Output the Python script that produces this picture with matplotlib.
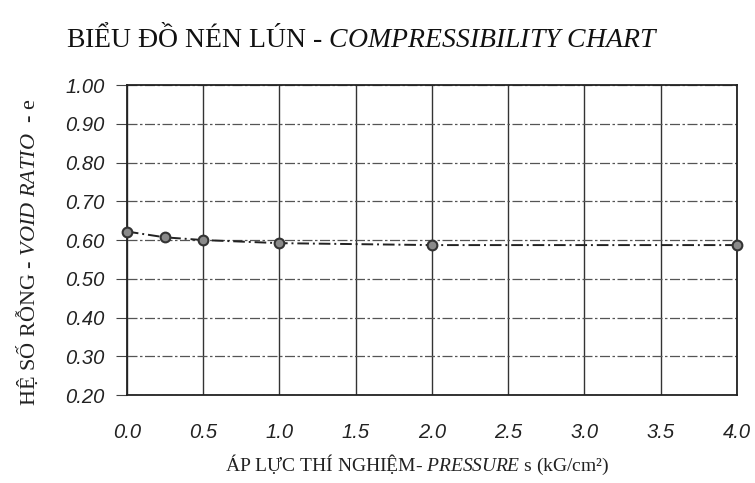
import matplotlib
matplotlib.use("Agg")
import matplotlib.pyplot as plt
import numpy as np

pressure = [0.0, 0.25, 0.5, 1.0, 2.0, 4.0]
void_ratio = [0.622, 0.607, 0.600, 0.592, 0.587, 0.587]
x_ticks = [0.0, 0.5, 1.0, 1.5, 2.0, 2.5, 3.0, 3.5, 4.0]
y_ticks = [0.20, 0.30, 0.40, 0.50, 0.60, 0.70, 0.80, 0.90, 1.00]

plt.rcParams['mathtext.fontset'] = 'custom'
plt.rcParams['mathtext.it'] = 'Liberation Serif:italic'
plt.rcParams['mathtext.rm'] = 'Liberation Serif'

fig = plt.figure(figsize=(7.55, 4.83), dpi=100)
ax = fig.add_axes([0.168, 0.182, 0.808, 0.642])

ax.plot(pressure, void_ratio, linestyle=(0, (6, 2, 1, 2)), color='#222222', lw=1.4,
        marker='o', markersize=7, markerfacecolor='#8a8a8a', markeredgecolor='#333333',
        markeredgewidth=1.5, zorder=3, clip_on=False)

ax.set_xlim(0, 4.0)
ax.set_ylim(0.2, 1.0)
ax.set_xticks(x_ticks)
ax.set_yticks(y_ticks)
ax.set_xticklabels([f"{v:.1f}" for v in x_ticks], fontstyle='italic',
                   family='Liberation Sans', fontsize=14.5, color='#222222')
ax.set_yticklabels([f"{v:.2f}" for v in y_ticks], fontstyle='italic',
                   family='Liberation Sans', fontsize=14.5, color='#222222')
ax.tick_params(axis='x', length=0, pad=20)
ax.tick_params(axis='y', length=8, pad=8, direction='out', color='#444444')

ax.grid(axis='x', color='#333333', lw=1.0, linestyle='-')
ax.grid(axis='y', color='#555555', lw=0.9, linestyle=(0, (8, 2, 2, 2)))
for s in ax.spines.values():
    s.set_color('#222222')
    s.set_linewidth(1.3)

fig.text(0.48, 0.92, r"BIỂU ĐỒ NÉN LÚN - $\mathit{COMPRESSIBILITY\ CHART}$",
         ha='center', va='center', family='Liberation Serif', fontsize=20, color='#111111')
fig.text(0.036, 0.478, r"HỆ SỐ RỖNG - $\mathit{VOID\ RATIO}$  - e", rotation=90,
         ha='center', va='center', family='Liberation Serif', fontsize=16, color='#222222')
fig.text(0.553, 0.038, r"ÁP LỰC THÍ NGHIỆM- $\mathit{PRESSURE}$ s (kG/cm²)",
         ha='center', va='center', family='Liberation Serif', fontsize=14, color='#222222')

fig.savefig("out.png", dpi=100)
